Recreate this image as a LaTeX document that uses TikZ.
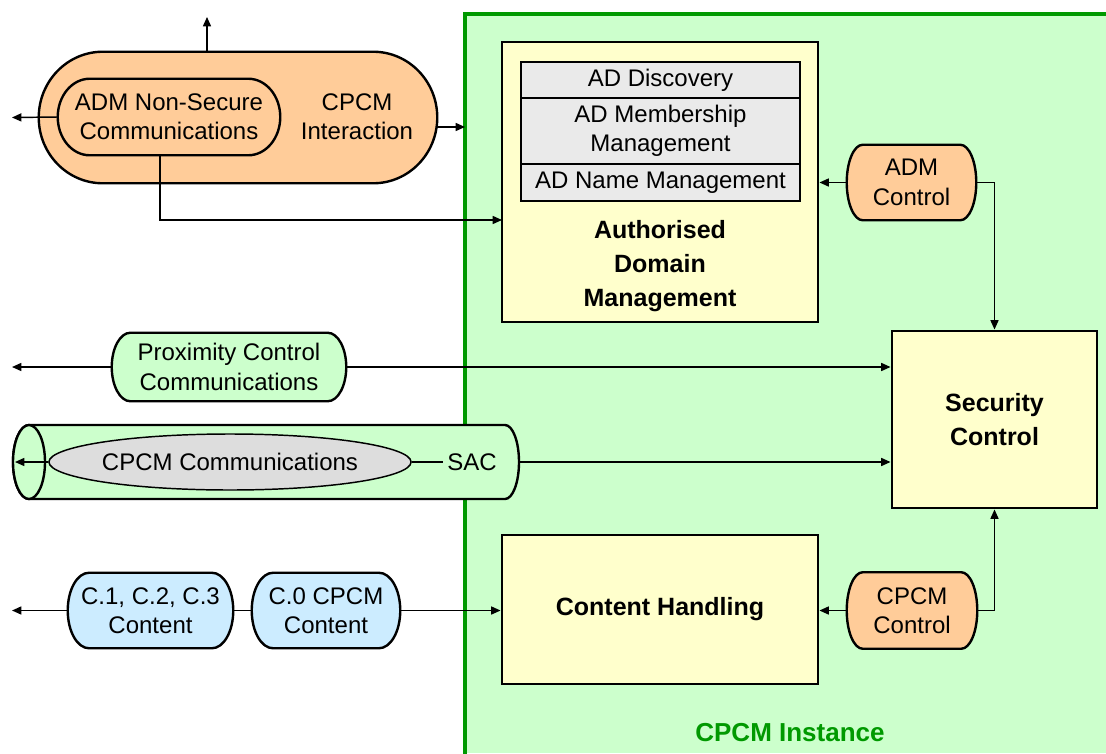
\documentclass[tikz,border=0pt]{standalone}
\usepackage{fontspec}
\setmainfont{Liberation Sans}
\usetikzlibrary{shapes.geometric,arrows.meta,calc}
\definecolor{gfill}{HTML}{CCFFCC}
\definecolor{gborder}{HTML}{009900}
\definecolor{ofill}{HTML}{FFCC99}
\definecolor{yfill}{HTML}{FFFFCC}
\definecolor{bfill}{HTML}{CCECFF}
\definecolor{tgray}{HTML}{EAEAEA}
\definecolor{egray}{HTML}{DDDDDD}
\pgfdeclarelayer{bg}
\pgfdeclarelayer{shp}
\pgfsetlayers{bg,shp,main}
% outline of a terminal shape round a node: #1 node, #2 arc x radius, #3 style
\newcommand\termshape[3]{%
  \begin{pgfonlayer}{shp}
  \path[#3] let \p1=(#1.north west), \p2=(#1.south east), \n1={(\y1-\y2)/2} in
    ({\x1+#2},\y1) -- ({\x2-#2},\y1)
    arc[start angle=90,end angle=-90,x radius=#2,y radius=\n1]
    -- ({\x1+#2},\y2)
    arc[start angle=270,end angle=90,x radius=#2,y radius=\n1] -- cycle;
  \end{pgfonlayer}}
\begin{document}
\begin{tikzpicture}[x=0.75pt,y=-0.75pt,
  font=\fontsize{18}{22}\selectfont,
  arr/.style={line width=1.1pt,-{Triangle[length=7pt,width=6pt]}},
  ln/.style={line width=1.1pt},
  box/.style={draw,line width=2.2pt,fill=yfill,inner sep=0pt,align=center},
  boldtxt/.style={font=\bfseries\fontsize{18.75}{25.5}\selectfont},
  term/.style={rectangle,inner sep=0pt,align=center},
  termline/.style={draw,line width=1.8pt},
  row/.style={draw,line width=1pt,fill=tgray,inner sep=0pt,align=center,minimum width=209.25pt}]

\useasboundingbox (0,0) rectangle (1106,753);

% CPCM instance region
\begin{pgfonlayer}{bg}
\fill[gfill] (465,14) rectangle (1106,753);
\draw[line width=3.5pt,gborder] (465,760) -- (465,14) -- (1110,14);
% cylinder (SAC)
\draw[line width=1.8pt,fill=gfill] (29,425) -- (505,425)
  arc[start angle=-90,end angle=90,x radius=14,y radius=37] -- (29,499)
  arc[start angle=90,end angle=270,x radius=16,y radius=37] -- cycle;
\draw[line width=1.8pt,fill=gfill] (29,462) ellipse [x radius=16,y radius=37];
\end{pgfonlayer}
\coordinate (cylR) at (519,462);
\coordinate (cylL) at (15,462);

% top-left orange group
\node[term,minimum width=298.5pt,minimum height=98.25pt] (big) at (238,117.5) {};
\termshape{big}{48pt}{termline,fill=ofill}
\node[term,minimum width=166.5pt,minimum height=57pt] (inner) at (169,117) {ADM Non-Secure\\Communications};
\termshape{inner}{24pt}{termline,fill=ofill}
\node[align=center] (cpi) at (357,117) {CPCM\\Interaction};

% ADM box
\node[box,minimum width=237pt,minimum height=210pt] (adm) at (660,182) {};
\node[row,minimum height=27pt] (r1) at (660.5,80) {AD Discovery};
\node[row,minimum height=49.5pt] (r2) at (660.5,131) {AD Membership\\Management};
\node[row,minimum height=27.75pt] (r3) at (660.5,182.5) {AD Name Management};
\node[boldtxt,align=center] (admt) at (660,266) {Authorised\\Domain\\Management};

\node[term,minimum width=96.75pt,minimum height=56.25pt] (admc) at (911.5,182.5) {ADM\\Control};
\termshape{admc}{12pt}{termline,fill=ofill}

% Security control
\node[box,boldtxt,minimum width=153.75pt,minimum height=132.75pt] (sec) at (994.5,419.5) {Security\\Control};

% proximity
\node[term,minimum width=175.5pt,minimum height=51pt] (prox) at (229,367) {Proximity Control\\Communications};
\termshape{prox}{14pt}{termline,fill=gfill}

% CPCM communications
\node[ellipse,draw,line width=1.1pt,fill=egray,inner sep=0pt,minimum width=229.5pt,minimum height=42pt] (cc) at (230,462) {CPCM Communications};
\node (sac) at (472,462) {SAC};

% content
\node[box,boldtxt,minimum width=237pt,minimum height=111.75pt] (ch) at (660,609.5) {Content Handling};
\node[term,minimum width=97.5pt,minimum height=57pt] (cpc) at (912,610.5) {CPCM\\Control};
\termshape{cpc}{12pt}{termline,fill=ofill}
\node[term,minimum width=123.75pt,minimum height=56.25pt] (c1) at (150.5,610.5) {C.1, C.2, C.3\\Content};
\termshape{c1}{16pt}{termline,fill=bfill}
\node[term,minimum width=111pt,minimum height=56.25pt] (c0) at (326,610.5) {C.0 CPCM\\Content};
\termshape{c0}{16pt}{termline,fill=bfill}

\node[font=\bfseries\fontsize{19.5}{22}\selectfont,text=gborder] (inst) at (790,733) {CPCM Instance};

% connectors
\coordinate (uptip) at (207,17);
\coordinate (lt1) at (12,117.5);
\coordinate (rt1) at (465,127);
\coordinate (dn) at (160,220);
\coordinate (admin) at (502,220);
\coordinate (lt2) at (12,367);
\coordinate (lt4) at (12,610.5);

\draw[arr] (uptip |- big.north) -- (uptip);
\draw[arr] (inner.west) -- (lt1);
\draw[arr] (rt1 -| big.east) -- (rt1);
\draw[arr] (dn |- inner.south) -- (dn) -- (admin);
\draw[arr] (admc.west) -- (adm.east |- admc.west);
\draw[arr] (admc.east) -| (sec.north);
\draw[arr] (prox.west) -- (lt2);
\draw[arr] (prox.east) -- (prox.east -| sec.west);
\draw[arr] (cc.west) -- (cylL);
\draw[ln] (cc.east) -- (sac.west);
\draw[arr] (cylR) -- (cylR -| sec.west);
\draw[arr] (c1.west) -- (lt4);
\draw[ln] (c1.east) -- (c0.west);
\draw[arr] (c0.east) -- (ch.west |- c0.east);
\draw[arr] (cpc.west) -- (ch.east |- cpc.west);
\draw[arr] (cpc.east) -| (sec.south);
\end{tikzpicture}
\end{document}
